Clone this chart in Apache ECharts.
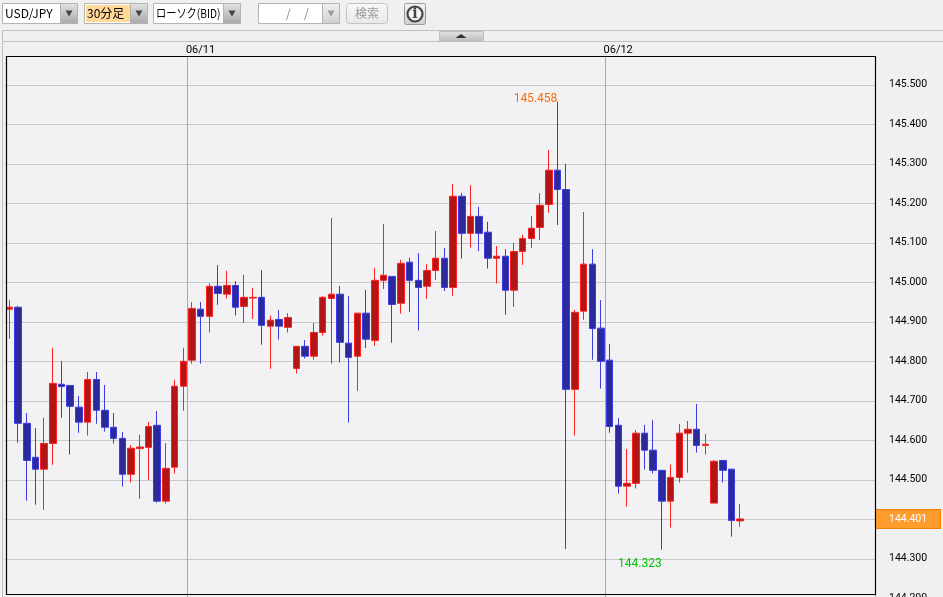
<!DOCTYPE html>
<html><head><meta charset="utf-8">
<style>html,body{margin:0;padding:0;background:#f0f0f0;overflow:hidden}#c{width:943px;height:597px}</style>
<script src="https://cdn.jsdelivr.net/npm/echarts@6/dist/echarts.min.js"></script>
</head><body><div id="c"></div>
<script>
const opens=[144.932,144.937,144.643,144.557,144.527,144.592,144.742,144.739,144.684,144.646,144.754,144.676,144.633,144.605,144.514,144.579,144.582,144.638,144.446,144.532,144.737,144.803,144.932,144.914,144.990,144.970,144.992,144.939,144.960,144.962,144.889,144.906,144.886,144.782,144.838,144.813,144.873,144.959,144.970,144.846,144.813,144.922,144.853,145.005,145.015,144.947,145.051,145.005,144.990,145.030,145.061,144.987,145.218,145.124,145.167,145.127,145.061,145.066,144.980,145.078,145.111,145.139,145.197,145.284,145.235,144.729,144.927,145.046,144.884,144.803,144.638,144.484,144.491,144.618,144.575,144.524,144.446,144.506,144.618,144.628,144.587,144.441,144.549,144.527,144.396];
const closes=[144.937,144.643,144.549,144.527,144.592,144.744,144.736,144.686,144.646,144.754,144.676,144.633,144.605,144.514,144.580,144.583,144.635,144.446,144.529,144.737,144.800,144.934,144.914,144.990,144.972,144.992,144.937,144.962,144.962,144.891,144.904,144.889,144.911,144.838,144.813,144.873,144.962,144.970,144.848,144.810,144.922,144.856,145.005,145.018,144.944,145.048,145.005,144.987,145.030,145.061,144.987,145.218,145.124,145.167,145.124,145.061,145.066,144.980,145.078,145.111,145.137,145.195,145.284,145.235,144.729,144.924,145.046,144.883,144.800,144.635,144.484,144.491,144.618,144.575,144.524,144.446,144.506,144.618,144.628,144.587,144.590,144.547,144.524,144.397,144.401];
const lows=[144.857,144.594,144.447,144.437,144.424,144.538,144.657,144.564,144.619,144.612,144.642,144.622,144.592,144.483,144.493,144.452,144.500,144.442,144.440,144.516,144.675,144.794,144.794,144.873,144.943,144.959,144.916,144.897,144.907,144.842,144.781,144.855,144.873,144.769,144.807,144.804,144.865,144.794,144.797,144.645,144.725,144.834,144.839,144.983,144.847,144.921,144.925,144.878,144.958,145.006,144.978,144.966,145.060,145.088,145.079,145.035,144.997,144.918,144.938,145.044,145.087,145.107,145.176,145.145,144.325,144.612,144.905,144.804,144.731,144.619,144.465,144.432,144.478,144.526,144.516,144.323,144.379,144.493,144.518,144.569,144.564,144.441,144.493,144.356,144.381];
const highs=[144.955,144.940,144.669,144.631,144.657,144.834,144.801,144.739,144.712,144.773,144.773,144.740,144.669,144.621,144.588,144.614,144.646,144.674,144.593,144.753,144.834,144.950,144.950,144.997,145.044,145.029,145.003,145.019,144.986,145.031,144.916,144.930,144.922,144.838,144.854,144.897,144.965,145.163,144.991,144.965,144.922,144.981,145.036,145.148,145.015,145.057,145.062,145.074,145.046,145.130,145.087,145.249,145.226,145.246,145.191,145.153,145.092,145.084,145.100,145.120,145.168,145.226,145.335,145.458,145.300,144.930,145.178,145.084,144.955,144.844,144.656,144.578,144.626,144.639,144.651,144.524,144.539,144.641,144.649,144.692,144.616,144.550,144.549,144.527,144.439];
const highLabel="145.458", lowLabel="144.323", lastLabel="144.401";
const yTicksMin=144.2, yTicksMax=145.573, yStep=0.1;
const dateLabels={21:"06/11",69:"06/12"};
const categories=[];
for(let i=0;i<100;i++)categories.push(dateLabels[i]||("c"+i));
const candles=opens.map((o,i)=>[o,closes[i],lows[i],highs[i]]);

const FONT='"Noto Sans CJK JP"';
const NUM='Roboto';
const g=[];
function rect(x,y,w,h,fill,stroke,z,r){g.push({type:'rect',silent:true,z:z===undefined?1:z,shape:{x,y,width:w,height:h,r:r||0},style:{fill:fill,stroke:stroke||null,lineWidth:stroke?1:0}});}
function txt(x,y,s,fill,size,family,align,sx){g.push({type:'text',silent:true,z:5,x,y,scaleX:sx||1,style:{text:s,fill:fill||'#000',font:(size||12)+'px '+(family||FONT),align:align||'left',verticalAlign:'middle'}});}
function tri(cx,cy,w,h,fill,up){g.push({type:'polygon',silent:true,z:5,shape:{points:up?[[cx-w/2,cy+h/2],[cx+w/2,cy+h/2],[cx,cy-h/2]]:[[cx-w/2,cy-h/2],[cx+w/2,cy-h/2],[cx,cy+h/2]]},style:{fill:fill}});}
function grad(a,b){return {type:'linear',x:0,y:0,x2:0,y2:1,colorStops:[{offset:0,color:a},{offset:1,color:b}]};}
function combo(x,w,btn,dim){
  rect(x+.5,3.5,w-1,20,'#fff','#b4b4b4');
  rect(x+w-btn-.5,3.5,btn,20,dim?grad('#f0f0f0','#cfcfcf'):grad('#e4e4e4','#a8a8a8'),'#b4b4b4');
  tri(x+w-btn/2-.5,13.5,7,6,dim?'#9a9a9a':'#444');
}
// toolbar
combo(2,76,17);
txt(5,13.5,'USD/JPY');
combo(84,64,17);
rect(86,5,44,17,'#ffd89a');
txt(87,13.5,'30分足');
combo(153,88,17);
txt(156,13.5,'ローソク(BID)','#000',12,FONT,'left',0.85);
combo(258,82,17,true);
txt(286,13,'/','#888');txt(304,13,'/','#888');
rect(346.5,3.5,41,20,grad('#f8f8f8','#e8e8e8'),'#c4c4c4',1,3);
txt(367,13.5,'検索','#999',12,FONT,'center');
rect(404.5,3.5,21,21,grad('#f4f4f4','#cfcfcf'),'#9a9a9a',1,2);
g.push({type:'circle',silent:true,z:3,shape:{cx:415,cy:14,r:7.5},style:{fill:'#f4f4f4',stroke:'#444',lineWidth:2.2}});
txt(415,14,'i','#444','bold 14','"DejaVu Serif"','center');
// panel
rect(2.5,30.5,941,20,'#f0f0f0','#c0c0c0',-3);
rect(2.5,41.5,941,560,'#f0f0f0','#c0c0c0',-3);
rect(439.5,31.5,44,9,grad('#e4e4e4','#bdbdbd'),'#c0c0c0',1);
tri(461,36,11,4,'#333',true);
// plot background and frame
rect(6.5,56.5,869,538,'#f2f2f5',null,-2);
g.push({type:'rect',silent:true,z:50,shape:{x:6.5,y:56.5,width:869,height:538},style:{fill:'none',stroke:'#000',lineWidth:1.2}});

const chart=echarts.init(document.getElementById('c'),null,{renderer:'canvas'});
chart.setOption({
  animation:false,
  backgroundColor:'#f0f0f0',
  textStyle:{fontFamily:NUM},
  graphic:{elements:g},
  grid:{left:5,top:56,width:870,height:542.3,containLabel:false,outerBoundsMode:'none'},
  xAxis:{type:'category',position:'top',data:categories,boundaryGap:true,
    axisLine:{show:false},axisTick:{show:false},
    axisLabel:{show:true,margin:0,color:'#000',fontFamily:NUM,fontSize:11,padding:[0,0,0,17],
      interval:(i)=>!!dateLabels[i],formatter:(v)=>v},
    splitLine:{show:true,interval:(i)=>!!dateLabels[i],lineStyle:{color:'#a8a8a8',width:1}}},
  yAxis:{type:'value',position:'right',min:yTicksMin,max:yTicksMax,interval:yStep,scale:true,
    axisLine:{show:false},axisTick:{show:false},
    axisLabel:{show:true,margin:14,color:'#000',fontFamily:NUM,fontSize:10.5,padding:[2,0,0,0],showMaxLabel:false,showMinLabel:true,
      formatter:(v)=>v.toFixed(3)},
    splitLine:{show:true,lineStyle:{color:'#c8c8c8',width:1}}},
  series:[{type:'candlestick',data:candles,barWidth:7,clip:true,
    itemStyle:{color:'#b21515',color0:'#2a2a9c',borderColor:'#ff2020',borderColor0:'#3c3ce0',borderColorDoji:'#ff2020',borderWidth:1},
    markPoint:{silent:true,symbol:'circle',symbolSize:0,animation:false,
      data:[
        {coord:[highs.indexOf(Math.max(...highs)),Math.max(...highs)],value:highLabel,
          label:{show:true,formatter:highLabel,position:'top',offset:[-22,9],color:'#ff6a00',fontFamily:NUM,fontSize:12}},
        {coord:[75,lows[75]],value:lowLabel,
          label:{show:true,formatter:lowLabel,position:'bottom',offset:[-22,3],color:'#00c000',fontFamily:NUM,fontSize:12}}
      ]},
    markLine:{silent:true,symbol:'none',animation:false,precision:3,lineStyle:{color:'rgba(0,0,0,0)',width:1,type:'solid'},
      data:[{yAxis:closes[closes.length-1]}],
      label:{show:true,position:'end',distance:1,formatter:lastLabel,color:'#fff',fontFamily:NUM,fontSize:10.5,
        backgroundColor:'#ff9c2e',borderColor:'#f28000',borderWidth:1,padding:[4,0,3,13],width:51,height:11,lineHeight:11,align:'left'}}
  }]
});
</script></body></html>
